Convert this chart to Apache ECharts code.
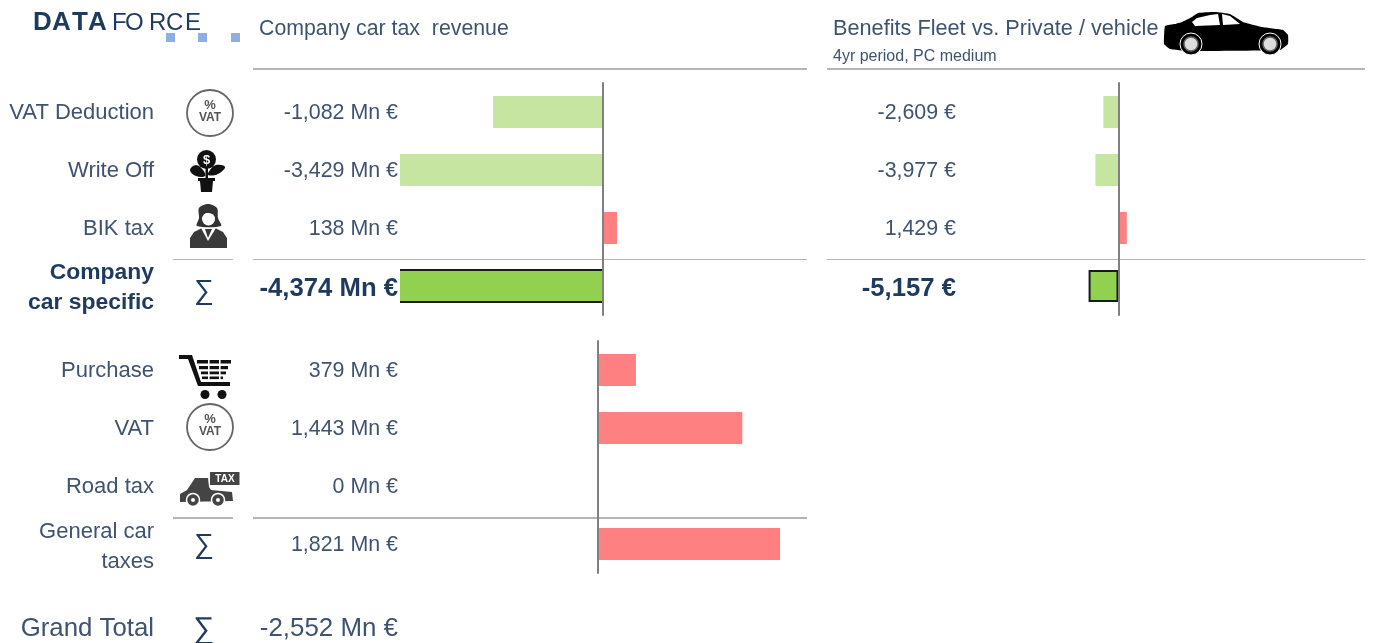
<!DOCTYPE html>
<html>
<head>
    <meta charset="utf-8">
    <title>Company car tax revenue</title>
    <script src="https://cdn.jsdelivr.net/npm/echarts@6/dist/echarts.min.js"></script>
    <style>
        html, body { margin: 0; padding: 0; background: #fff; }
        #main { width: 1374px; height: 643px; }
    </style>
</head>
<body>
    <div id="main"></div>
    <script type="text/javascript">

    var topCategories = ['VAT Deduction', 'Write Off', 'BIK tax', 'Company\ncar specific'];
    var revenueValues = [-1082, -3429, 138, -4374];
    var benefitValues = [-2609, -3977, 1429, -5157];
    var lowerCategories = ['Purchase', 'VAT', 'Road tax', 'General car\ntaxes'];
    var lowerValues = [379, 1443, 0, 1821];
    var grandTotalLabel = 'Grand Total';
    var grandTotalValue = -2552;
    var revenueTitle = 'Company car tax  revenue';
    var benefitTitle = 'Benefits Fleet vs. Private / vehicle';
    var benefitSubtitle = '4yr period, PC medium';

    var textColor = '#3f5370';
    var boldColor = '#1f3a5f';
    var lightGreen = '#c6e5a1';
    var red = '#ff8080';
    var darkGreen = '#92d050';
    var borderBlack = '#1a1a1a';
    var lineColor = '#b5b5b5';
    var font = '"Liberation Sans", Arial, sans-serif';

    function num(v) {
        return v.toLocaleString('en-US');
    }
    function mn(v) {
        return num(v) + ' Mn €';
    }
    function eur(v) {
        return num(v) + ' €';
    }

    // total: 'box' draws the last row with a border, 'skip' leaves it to a custom series
    function barData(values, total) {
        return values.map(function (v, i) {
            if (total && i == values.length - 1) {
                if (total == 'skip') return '-';
                return { value: v, itemStyle: { color: darkGreen, borderColor: borderBlack, borderWidth: 2 } };
            }
            return { value: v, itemStyle: { color: v < 0 ? lightGreen : red } };
        });
    }

    // the revenue total runs past the axis minimum, so it is open on the left
    function renderOpenTotal(params, api) {
        var row = api.value(1);
        var from = api.coord([api.value(0), row]);
        var to = api.coord([0, row]);
        var x0 = Math.max(from[0], params.coordSys.x);
        var top = to[1] - 16;
        var bottom = to[1] + 16;
        var edge = { stroke: borderBlack, lineWidth: 2 };
        return {
            type: 'group',
            children: [
                { type: 'rect', shape: { x: x0, y: top, width: to[0] - x0, height: 32 }, style: { fill: darkGreen } },
                { type: 'line', shape: { x1: x0, y1: top, x2: to[0], y2: top }, style: edge },
                { type: 'line', shape: { x1: x0, y1: bottom, x2: to[0], y2: bottom }, style: edge }
            ]
        };
    }

    // opts: size, boldLast, boldSize, boldPad, lastGap
    function labelAxis(gridIndex, data, margin, opts) {
        return {
            type: 'category',
            gridIndex: gridIndex,
            inverse: true,
            data: data,
            position: 'left',
            axisLine: { show: false, onZero: false },
            axisTick: { show: false },
            splitLine: { show: false },
            axisLabel: {
                interval: 0,
                margin: margin,
                align: 'right',
                padding: [2, 0, 0, 0],
                color: textColor,
                fontFamily: font,
                fontSize: opts.size,
                lineHeight: 30,
                formatter: function (value, idx) {
                    if (idx != data.length - 1) return value;
                    var style = opts.boldLast ? 'b' : 'n';
                    var lines = value.split('\n').map(function (s) { return '{' + style + '|' + s + '}'; }).join('\n');
                    return opts.lastGap ? '{gap| }\n' + lines : lines;
                },
                rich: {
                    n: { fontFamily: font, fontSize: opts.size, color: textColor, lineHeight: 30 },
                    b: { fontFamily: font, fontSize: opts.boldSize, fontWeight: 'bold', color: boldColor, lineHeight: 30, padding: [opts.boldPad || 0, 0, 0, 0] },
                    gap: { fontSize: 1, lineHeight: opts.lastGap || 1 }
                }
            }
        };
    }

    function zeroAxis(gridIndex, count) {
        return {
            type: 'category',
            gridIndex: gridIndex,
            inverse: true,
            z: 5,
            data: new Array(count).fill(''),
            axisLine: { show: true, onZero: true, lineStyle: { color: '#808080', width: 2 } },
            axisTick: { show: false },
            axisLabel: { show: false },
            splitLine: { show: false }
        };
    }

    function valueAxis(gridIndex, min, max) {
        return { type: 'value', gridIndex: gridIndex, min: min, max: max, show: false, splitLine: { show: false } };
    }

    function txt(text, x, y, size, color, align, weight) {
        return {
            type: 'text', silent: true,
            style: {
                text: text, x: x, y: y, fill: color, textAlign: align || 'left', textVerticalAlign: 'middle',
                font: (weight || 'normal') + ' ' + size + 'px ' + font
            }
        };
    }
    function rule(x1, x2, y, w) {
        return { type: 'line', silent: true, shape: { x1: x1, y1: y, x2: x2, y2: y }, style: { stroke: lineColor, lineWidth: w } };
    }
    function poly(points, fill, smooth) {
        return { type: 'polygon', silent: true, shape: { points: points, smooth: smooth || 0 }, style: { fill: fill } };
    }
    function circle(cx, cy, r, fill, stroke, w) {
        return { type: 'circle', silent: true, shape: { cx: cx, cy: cy, r: r }, style: { fill: fill, stroke: stroke, lineWidth: w || 0 } };
    }
    function box(x, y, w, h, fill) {
        return { type: 'rect', silent: true, shape: { x: x, y: y, width: w, height: h }, style: { fill: fill } };
    }

    function logo() {
        var out = [
            box(166, 33, 9, 9, '#8eb0e0'),
            box(198, 33, 9, 9, '#8eb0e0'),
            box(231, 33, 9, 9, '#8eb0e0')
        ];
        [['D', 33], ['A', 52], ['T', 72], ['A', 88]].forEach(function (c) {
            out.push(txt(c[0], c[1], 23, 26, boldColor, 'left', 'bold'));
        });
        [['F', 112], ['O', 125], ['R', 149], ['C', 166], ['E', 185]].forEach(function (c) {
            out.push(txt(c[0], c[1], 23, 24, boldColor));
        });
        return out;
    }

    function vatIcon(cy) {
        return [
            circle(210, cy, 23, '#fff', '#666', 1.8),
            txt('%', 210, cy - 8, 13, '#555', 'center', 'bold'),
            txt('VAT', 210, cy + 5, 12, '#555', 'center', 'bold')
        ];
    }

    function plantIcon() {
        return [
            circle(206.5, 159.5, 9.5, '#111'),
            txt('$', 206.5, 160, 13, '#fff', 'center', 'bold'),
            box(205.5, 168, 2.5, 10, '#111'),
            poly([[190, 170], [196, 165], [203, 170], [205, 176], [196, 176]], '#111', 0.4),
            poly([[225, 167], [216, 165], [210, 170], [208, 175], [218, 174]], '#111', 0.4),
            poly([[198, 178], [215, 178], [215, 181], [213, 181], [212, 192], [201, 192], [200, 181], [198, 181]], '#111')
        ];
    }

    function womanIcon() {
        return [
            poly([[199, 208], [208, 204], [217, 208], [218, 218], [221, 226], [197, 226], [199, 218]], '#333', 0.3),
            circle(208.5, 219, 6.5, '#fff'),
            poly([[201, 213], [204, 209], [213, 209], [217, 215], [209, 213]], '#333'),
            poly([[190, 248], [190, 238], [194, 232], [202, 228], [215, 228], [223, 232], [227, 238], [227, 248]], '#3a3a3a'),
            poly([[201, 228], [208, 241], [216, 228]], '#fff'),
            poly([[205, 229], [208, 238], [212, 229]], '#3a3a3a')
        ];
    }

    function cartIcon() {
        var out = [
            poly([[179, 355], [192, 355], [201, 382], [230, 382], [230, 386], [198, 386], [188, 359], [179, 359]], '#111'),
            circle(205, 394.5, 4.5, '#111'),
            circle(222, 394.5, 4.5, '#111')
        ];
        [[360, 197, 231, 3.5], [366, 199, 228, 3.2], [371.5, 201, 226, 2.8], [376.5, 202, 223, 2.6]].forEach(function (r) {
            out.push(box(r[1], r[0], r[2] - r[1], r[3], '#111'));
        });
        [208, 219].forEach(function (x) {
            out.push(box(x, 359, 1.6, 21, '#fff'));
        });
        return out;
    }

    function taxCarIcon() {
        return [
            box(210, 472, 29.5, 13, '#444'),
            txt('TAX', 225, 479, 10, '#fff', 'center', 'bold'),
            poly([[180, 494], [187, 490], [195, 478], [208, 478], [209, 487], [211, 490], [232, 492], [233, 501], [180, 502]], '#444'),
            circle(193, 500, 6.5, '#444', '#fff', 1.5),
            circle(218, 500, 6.5, '#444', '#fff', 1.5),
            circle(193, 500, 2, '#fff'),
            circle(218, 500, 2, '#fff')
        ];
    }

    function bigCarIcon() {
        return [
            poly([[1165, 26], [1175, 24], [1182, 22], [1192, 17], [1198, 13], [1215, 12], [1230, 14], [1243, 22], [1262, 27], [1283, 30], [1288, 35], [1288, 44], [1280, 50], [1188, 51], [1170, 49], [1164, 44]], '#000', 0.1),
            poly([[1192, 22], [1197, 18], [1210, 15], [1218, 14], [1220, 25], [1195, 26]], '#fff'),
            poly([[1222, 14], [1230, 16], [1240, 24], [1223, 25]], '#fff'),
            circle(1191, 44, 11, '#000', '#fff', 1),
            circle(1270, 44, 11, '#000', '#fff', 1),
            circle(1191, 44, 7, '#ddd', '#666', 1.5),
            circle(1270, 44, 7, '#ddd', '#666', 1.5)
        ];
    }

    var graphics = [
        txt(revenueTitle, 259, 29, 21.3, textColor),
        txt(benefitTitle, 833, 29, 21.7, textColor),
        txt(benefitSubtitle, 833, 57, 16, textColor),

        rule(253, 807, 69, 2),
        rule(827, 1365, 69, 2),
        rule(173, 233, 259.5, 1),
        rule(253, 807, 259.5, 1),
        rule(827, 1365, 259.5, 1),
        rule(173, 233, 518, 2),
        rule(253, 807, 518, 2),

        txt('∑', 204, 291, 28, boldColor, 'center'),
        txt('∑', 204, 545, 28, boldColor, 'center'),
        txt('∑', 204, 630, 30, boldColor, 'center'),

        txt(grandTotalLabel, 154, 629, 25.8, textColor, 'right'),
        txt(mn(grandTotalValue), 398, 629, 25.9, textColor, 'right')
    ].concat(logo(), vatIcon(113), plantIcon(), womanIcon(), cartIcon(), vatIcon(427), taxCarIcon(), bigCarIcon());

    var option = {
        animation: false,
        backgroundColor: '#fff',
        grid: [
            { left: 400, width: 407, top: 83, height: 232 },
            { left: 958, width: 407, top: 83, height: 232 },
            { left: 400, width: 407, top: 341, height: 232 }
        ],
        xAxis: [
            valueAxis(0, -1998, 2008),
            valueAxis(1, -27670, 42500),
            valueAxis(2, -1980, 2090)
        ],
        yAxis: [
            zeroAxis(0, 4),
            labelAxis(0, topCategories, 246, { size: 22, boldLast: true, boldSize: 22.9, lastGap: 2 }),
            labelAxis(0, revenueValues.map(mn), 2, { size: 21.4, boldLast: true, boldSize: 25.7, boldPad: 4 }),
            zeroAxis(1, 4),
            labelAxis(1, benefitValues.map(eur), 2, { size: 21.4, boldLast: true, boldSize: 25.7, boldPad: 4 }),
            zeroAxis(2, 4),
            labelAxis(2, lowerCategories, 246, { size: 22, lastGap: 4 }),
            labelAxis(2, lowerValues.map(mn), 2, { size: 21.4 })
        ],
        series: [
            { type: 'bar', xAxisIndex: 0, yAxisIndex: 0, barWidth: 32, data: barData(revenueValues, 'skip') },
            {
                type: 'custom', xAxisIndex: 0, yAxisIndex: 0, z: 2,
                renderItem: renderOpenTotal,
                encode: { x: 0, y: 1 },
                data: [[revenueValues[3], 3]]
            },
            { type: 'bar', xAxisIndex: 1, yAxisIndex: 3, barWidth: 32, data: barData(benefitValues, 'box') },
            { type: 'bar', xAxisIndex: 2, yAxisIndex: 5, barWidth: 32, data: barData(lowerValues) }
        ],
        graphic: graphics
    };

    var myChart = echarts.init(document.getElementById('main'));
    myChart.setOption(option);

    </script>
</body>
</html>
